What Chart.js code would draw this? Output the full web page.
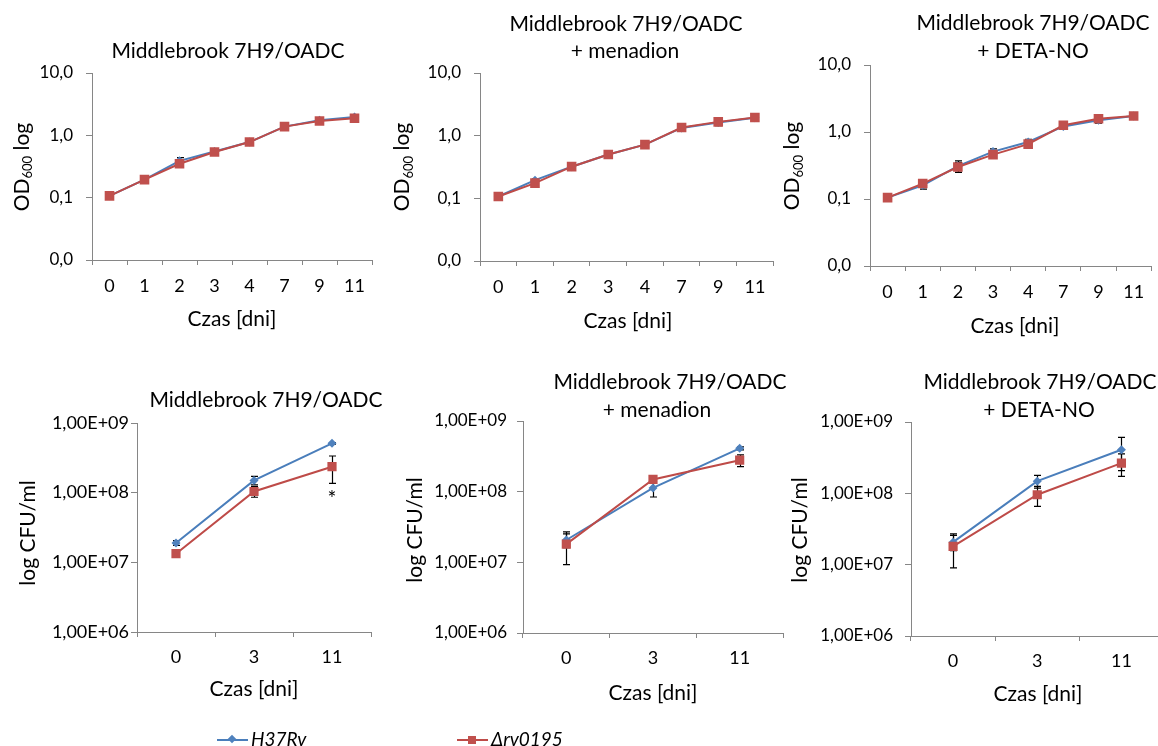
<!DOCTYPE html>
<html>
<head>
<meta charset="utf-8">
<script src="https://cdn.jsdelivr.net/npm/chart.js@4.4.0/dist/chart.umd.min.js"></script>
<style>
  html, body { margin: 0; padding: 0; background: #fff; }
  body { position: relative; width: 1158px; height: 746px; overflow: hidden; font-family: Lato, "Liberation Sans", sans-serif; }
  canvas { position: absolute; }
  .leg { position: absolute; top: 727px; height: 24px; }
  .leg .ln { position: absolute; top: 12px; width: 31px; height: 2px; }
  .leg .mk { position: absolute; }
  .leg .tx { position: absolute; top: 0; font-style: italic; font-size: 19px; line-height: 24px; color: #000; white-space: nowrap; }
</style>
</head>
<body>
<canvas id="c1" width="390" height="345" style="left:0;top:0"></canvas>
<canvas id="c2" width="400" height="345" style="left:380px;top:0"></canvas>
<canvas id="c3" width="388" height="345" style="left:770px;top:0"></canvas>
<canvas id="c4" width="390" height="391" style="left:0;top:355px"></canvas>
<canvas id="c5" width="420" height="391" style="left:380px;top:355px"></canvas>
<canvas id="c6" width="400" height="391" style="left:770px;top:355px"></canvas>

<div class="leg" style="left:217px">
  <div class="ln" style="left:0;background:#4A7EBB"></div>
  <div class="mk" style="left:12px;top:9px;width:6px;height:6px;background:#4F81BD;transform:rotate(45deg)"></div>
  <div class="tx" style="left:34px">H37Rv</div>
</div>
<div class="leg" style="left:457px">
  <div class="ln" style="left:0;background:#BE4B48"></div>
  <div class="mk" style="left:11px;top:9px;width:8px;height:8px;background:#C0504D"></div>
  <div class="tx" style="left:34px">Δrv0195</div>
</div>

<script>
// ---- categories (days) ----
const odDays  = ['0', '1', '2', '3', '4', '7', '9', '11'];
const cfuDays = ['0', '3', '11'];

// ---- axis ticks ----
const odTickValues  = [0.01, 0.1, 1, 10];
const odTickLabels  = ['0,0', '0,1', '1,0', '10,0'];
const cfuTickValues = [1e6, 1e7, 1e8, 1e9];
const cfuTickLabels = ['1,00E+06', '1,00E+07', '1,00E+08', '1,00E+09'];

// ---- OD600: Middlebrook 7H9/OADC ----
const odOadcH37Rv    = [0.107, 0.195, 0.39, 0.55, 0.78, 1.38, 1.75, 1.97];
const odOadcH37RvErr = [0.002, 0.005, 0.05, 0.02, 0.03, 0.06, 0.08, 0.06];
const odOadcMut      = [0.107, 0.195, 0.35, 0.54, 0.78, 1.38, 1.70, 1.88];
const odOadcMutErr   = [0.002, 0.005, 0.02, 0.02, 0.03, 0.05, 0.06, 0.05];

// ---- OD600: + menadion ----
const odMenH37Rv    = [0.107, 0.195, 0.32, 0.50, 0.72, 1.33, 1.62, 1.93];
const odMenH37RvErr = [0.002, 0.01, 0.015, 0.02, 0.03, 0.12, 0.18, 0.06];
const odMenMut      = [0.107, 0.175, 0.32, 0.50, 0.72, 1.35, 1.66, 1.95];
const odMenMutErr   = [0.002, 0.008, 0.015, 0.02, 0.03, 0.10, 0.14, 0.06];

// ---- OD600: + DETA-NO ----
const odNoH37Rv    = [0.105, 0.16, 0.31, 0.51, 0.71, 1.21, 1.50, 1.73];
const odNoH37RvErr = [0.002, 0.02, 0.06, 0.05, 0.07, 0.12, 0.15, 0.05];
const odNoMut      = [0.105, 0.17, 0.30, 0.46, 0.66, 1.26, 1.58, 1.73];
const odNoMutErr   = [0.002, 0.015, 0.05, 0.03, 0.05, 0.08, 0.08, 0.05];

// ---- CFU/ml: Middlebrook 7H9/OADC ----
const cfuOadcH37Rv    = [1.9e7, 1.5e8, 5.1e8];
const cfuOadcH37RvErr = [1.5e6, 2.1e7, 1.2e7];
const cfuOadcMut      = [1.33e7, 1.04e8, 2.36e8];
const cfuOadcMutErr   = [8e5, 1.8e7, 1.0e8];

// ---- CFU/ml: + menadion ----
const cfuMenH37Rv    = [2.07e7, 1.13e8, 4.1e8];
const cfuMenH37RvErr = [4.5e6, 2.9e7, 2.0e7];
const cfuMenMut      = [1.81e7, 1.49e8, 2.79e8];
const cfuMenMutErr   = [8.8e6, 1.3e7, 5.3e7];

// ---- CFU/ml: + DETA-NO ----
const cfuNoH37Rv    = [2.07e7, 1.48e8, 4.08e8];
const cfuNoH37RvErr = [5e6, 3e7, 2.0e8];
const cfuNoMut      = [1.8e7, 9.55e7, 2.65e8];
const cfuNoMutErr   = [9e6, 3.0e7, 9.2e7];

const FONT = 'Lato, "Liberation Sans", sans-serif';
const AXIS = '#868686';
const BLUE_LINE = '#4A7EBB', BLUE = '#4F81BD';
const RED_LINE = '#BE4B48', RED = '#C0504D';

// symmetric error bars from each dataset's `errors` array, drawn under the markers
const errorBars = {
  id: 'errorBars',
  beforeDatasetsDraw(chart) {
    const ctx = chart.ctx, ys = chart.scales.y, xs = chart.scales.x;
    ctx.save();
    ctx.strokeStyle = '#000';
    ctx.lineWidth = 1.2;
    chart.data.datasets.forEach((ds) => {
      if (!ds.errors) return;
      ds.data.forEach((v, j) => {
        const e = ds.errors[j];
        if (!e) return;
        const yt = ys.getPixelForValue(v + e);
        const yb = ys.getPixelForValue(Math.max(v - e, ys.min));
        const x = Math.round(xs.getPixelForValue(j)) + 0.5, w = 3.5;
        ctx.beginPath();
        ctx.moveTo(x, yt); ctx.lineTo(x, yb);
        ctx.moveTo(x - w, yt); ctx.lineTo(x + w, yt);
        ctx.moveTo(x - w, yb); ctx.lineTo(x + w, yb);
        ctx.stroke();
      });
    });
    ctx.restore();
  }
};

// panel titles, axis titles (with subscript) and annotations
const panelTexts = {};
const panelText = {
  id: 'panelText',
  afterDraw(chart) {
    const o = panelTexts[chart.canvas.id];
    if (!o) return;
    const ctx = chart.ctx;
    ctx.save();
    ctx.fillStyle = '#000';
    ctx.textAlign = 'center';
    ctx.textBaseline = 'middle';
    ctx.font = `${o.titleSize}px ${FONT}`;
    o.title.forEach(t => ctx.fillText(t.text, t.x, t.y));
    ctx.font = `${o.axisSize}px ${FONT}`;
    ctx.fillText(o.xTitle.text, o.xTitle.x, o.xTitle.y);
    (o.notes || []).forEach(n => { ctx.font = `${n.size}px ${FONT}`; ctx.fillText(n.text, n.x, n.y); });

    ctx.translate(o.yTitle.x, o.yTitle.y);
    ctx.rotate(-Math.PI / 2);
    ctx.textAlign = 'left';
    let total = 0;
    o.yTitle.parts.forEach(p => {
      ctx.font = `${p.size}px ${FONT}`;
      p.w = ctx.measureText(p.text).width;
      total += p.w;
    });
    let x = -total / 2;
    o.yTitle.parts.forEach(p => {
      ctx.font = `${p.size}px ${FONT}`;
      ctx.fillText(p.text, x, p.dy || 0);
      x += p.w;
    });
    ctx.restore();
  }
};

function makePanel(id, cfg) {
  const canvas = document.getElementById(id);
  const W = canvas.width, H = canvas.height;
  const a = cfg.area, xh = 40;
  panelTexts[id] = cfg.text;
  new Chart(canvas, {
    type: 'line',
    data: {
      labels: cfg.labels,
      datasets: [
        { label: 'H37Rv', data: cfg.h37, errors: cfg.h37Err, order: 2,
          borderColor: BLUE_LINE, backgroundColor: BLUE, pointBorderColor: BLUE,
          borderWidth: 2, pointStyle: 'rectRot', pointRadius: cfg.diamond, pointBorderWidth: 0,
          tension: 0 },
        { label: 'Δrv0195', data: cfg.mut, errors: cfg.mutErr, order: 1,
          borderColor: RED_LINE, backgroundColor: RED, pointBorderColor: RED,
          borderWidth: 2, pointStyle: 'rect', pointRadius: cfg.square, pointBorderWidth: 0,
          tension: 0 }
      ]
    },
    options: {
      responsive: false,
      animation: false,
      events: [],
      layout: { padding: { left: 0, top: a.top, right: W - a.right, bottom: H - a.bottom - xh } },
      plugins: { legend: { display: false }, tooltip: { enabled: false }, title: { display: false } },
      scales: {
        x: {
          type: 'category',
          offset: true,
          grid: { offset: true, drawOnChartArea: false, drawTicks: true, tickLength: 5, color: AXIS, lineWidth: 1 },
          border: { color: AXIS, width: 1 },
          ticks: { color: '#000', font: { family: FONT, size: cfg.xTickSize }, padding: cfg.xPad, maxRotation: 0, autoSkip: false },
          afterFit(s) { s.height = xh; }
        },
        y: {
          type: 'logarithmic',
          min: cfg.tickValues[0],
          max: cfg.tickValues[cfg.tickValues.length - 1],
          grid: { drawOnChartArea: false, drawTicks: true, tickLength: 6, color: AXIS, lineWidth: 1 },
          border: { color: AXIS, width: 1 },
          afterBuildTicks(s) { s.ticks = cfg.tickValues.map(v => ({ value: v })); },
          ticks: {
            color: '#000', font: { family: FONT, size: cfg.yTickSize }, padding: cfg.yPad,
            callback: (v) => cfg.tickLabels[cfg.tickValues.indexOf(v)]
          },
          afterFit(s) { s.width = a.left; }
        }
      }
    },
    plugins: [errorBars, panelText]
  });
}

const odTitle = (x, y) => ({ x, y, parts: [
  { text: 'OD', size: 21 }, { text: '600', size: 13, dy: 6 }, { text: ' log', size: 21 }] });
const cfuTitle = (x, y) => ({ x, y, parts: [{ text: 'log CFU/ml', size: 21 }] });

const odBase = { labels: odDays, tickValues: odTickValues, tickLabels: odTickLabels,
  xTickSize: 18, yTickSize: 17, xPad: 10, yPad: 13, diamond: 4.5, square: 6.8 };
const cfuBase = { labels: cfuDays, tickValues: cfuTickValues, tickLabels: cfuTickLabels,
  xTickSize: 18, yTickSize: 17, xPad: 9, yPad: 11, diamond: 4.5, square: 6.5 };

makePanel('c1', Object.assign({}, odBase, {
  h37: odOadcH37Rv, h37Err: odOadcH37RvErr, mut: odOadcMut, mutErr: odOadcMutErr,
  area: { left: 92, top: 73, right: 372, bottom: 260 },
  text: { titleSize: 21, axisSize: 21,
    title: [{ text: 'Middlebrook 7H9/OADC', x: 228, y: 51 }],
    xTitle: { text: 'Czas [dni]', x: 232, y: 319 },
    yTitle: odTitle(22, 167) }
}));
makePanel('c2', Object.assign({}, odBase, {
  h37: odMenH37Rv, h37Err: odMenH37RvErr, mut: odMenMut, mutErr: odMenMutErr,
  area: { left: 100, top: 73, right: 396, bottom: 261 },
  text: { titleSize: 21, axisSize: 21,
    title: [{ text: 'Middlebrook 7H9/OADC', x: 246, y: 24 }, { text: '+ menadion', x: 245, y: 51 }],
    xTitle: { text: 'Czas [dni]', x: 248, y: 321 },
    yTitle: odTitle(22.5, 167) }
}));
makePanel('c3', Object.assign({}, odBase, {
  h37: odNoH37Rv, h37Err: odNoH37RvErr, mut: odNoMut, mutErr: odNoMutErr,
  area: { left: 100, top: 65, right: 388, bottom: 266 },
  text: { titleSize: 21, axisSize: 21,
    title: [{ text: 'Middlebrook 7H9/OADC', x: 263, y: 23 }, { text: '+ DETA-NO', x: 263, y: 51 }],
    xTitle: { text: 'Czas [dni]', x: 245, y: 326 },
    yTitle: odTitle(22.5, 166) }
}));
makePanel('c4', Object.assign({}, cfuBase, {
  yTickSize: 18, yPad: 2,
  h37: cfuOadcH37Rv, h37Err: cfuOadcH37RvErr, mut: cfuOadcMut, mutErr: cfuOadcMutErr,
  area: { left: 137, top: 68, right: 371, bottom: 277 },
  text: { titleSize: 21, axisSize: 21,
    title: [{ text: 'Middlebrook 7H9/OADC', x: 266, y: 45 }],
    xTitle: { text: 'Czas [dni]', x: 254, y: 334 },
    yTitle: cfuTitle(28, 178),
    notes: [{ text: '*', x: 332, y: 144, size: 21 }] }
}));
makePanel('c5', Object.assign({}, cfuBase, {
  yPad: 10,
  h37: cfuMenH37Rv, h37Err: cfuMenH37RvErr, mut: cfuMenMut, mutErr: cfuMenMutErr,
  area: { left: 143, top: 66, right: 403, bottom: 278 },
  text: { titleSize: 21, axisSize: 21,
    title: [{ text: 'Middlebrook 7H9/OADC', x: 290, y: 27.5 }, { text: '+ menadion', x: 277, y: 55.5 }],
    xTitle: { text: 'Czas [dni]', x: 273, y: 338 },
    yTitle: cfuTitle(35, 175) }
}));
makePanel('c6', Object.assign({}, cfuBase, {
  yPad: 12,
  h37: cfuNoH37Rv, h37Err: cfuNoH37RvErr, mut: cfuNoMut, mutErr: cfuNoMutErr,
  area: { left: 141, top: 67, right: 396, bottom: 281 },
  text: { titleSize: 21, axisSize: 21,
    title: [{ text: 'Middlebrook 7H9/OADC', x: 270, y: 27.5 }, { text: '+ DETA-NO', x: 269, y: 55.5 }],
    xTitle: { text: 'Czas [dni]', x: 268, y: 339 },
    yTitle: cfuTitle(30, 175) }
}));
</script>
</body>
</html>
